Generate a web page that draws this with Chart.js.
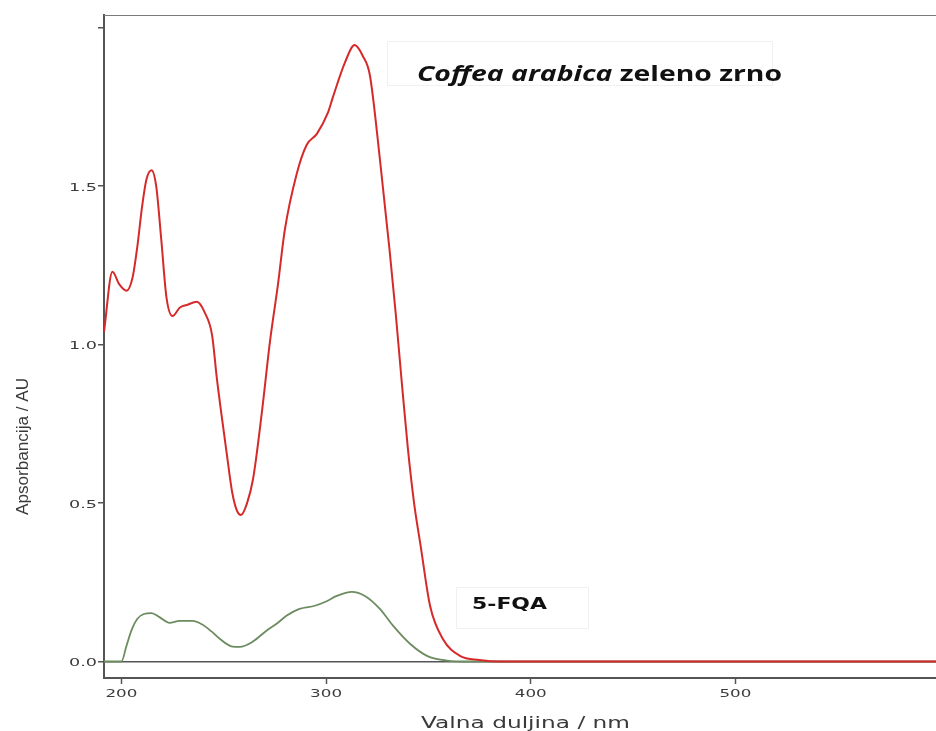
<!DOCTYPE html>
<html>
<head>
<meta charset="utf-8">
<script src="https://cdn.jsdelivr.net/npm/chart.js@4"></script>
<style>
  html, body { margin: 0; padding: 0; background: #fff; }
  #wrap { width: 936px; height: 731px; }
</style>
</head>
<body>
<div id="wrap"><canvas id="spectrum" width="936" height="731"></canvas></div>
<script>
// wavelength (nm) and absorbance (AU)
const coffeaNm = [191.5, 195.6, 199, 202.5, 205.4, 207.8, 210, 212.2, 214.7, 217, 219.5, 222, 225, 228.6, 232, 236.9, 240.8, 244.3, 246.7, 249.2, 251.6, 254.1, 256.5, 258.4, 261.4, 264.3, 268.7, 272.6, 276.5, 279.8, 285.7, 290.5, 295.5, 300.8, 303.3, 309.2, 314, 318, 321.4, 326.3, 331, 334, 337, 340, 343, 346.2, 350.8, 357, 365.4, 375, 385, 598];
const coffeaAbs = [1.04, 1.23, 1.19, 1.17, 1.21, 1.31, 1.43, 1.52, 1.55, 1.50, 1.33, 1.15, 1.09, 1.117, 1.125, 1.135, 1.10, 1.03, 0.89, 0.765, 0.65, 0.535, 0.475, 0.462, 0.50, 0.575, 0.79, 1.01, 1.19, 1.36, 1.54, 1.63, 1.665, 1.73, 1.78, 1.89, 1.945, 1.91, 1.85, 1.585, 1.30, 1.10, 0.88, 0.67, 0.50, 0.365, 0.176, 0.072, 0.018, 0.005, 0, 0];

const fqaNm = [191.5, 200, 202.5, 205, 207.8, 211, 214.7, 218.6, 223.5, 228.4, 234.8, 239.7, 244, 248, 254.3, 257.8, 264, 271, 276, 280.8, 287, 294.5, 300.3, 305.2, 312.6, 319, 326.3, 332.7, 341, 349.3, 359, 370, 598];
const fqaAbs = [0, 0, 0.05, 0.1, 0.135, 0.15, 0.153, 0.14, 0.122, 0.128, 0.128, 0.116, 0.095, 0.072, 0.047, 0.046, 0.062, 0.098, 0.12, 0.145, 0.166, 0.176, 0.19, 0.207, 0.22, 0.207, 0.166, 0.113, 0.056, 0.018, 0.003, 0, 0];

const xTicks = [200, 300, 400, 500];
const yTicks = [0, 0.5, 1.0, 1.5, 2.0];

const toPoints = (xs, ys) => xs.map((x, i) => ({ x, y: ys[i] }));

// draw a run of text pieces squeezed/stretched to a given width
const fitText = (ctx, parts, x, y, width) => {
    let total = 0;
    parts.forEach((p) => {
        ctx.font = p.font;
        total += ctx.measureText(p.text).width;
    });
    const s = width / total;
    ctx.save();
    ctx.translate(x, y);
    ctx.scale(s, 1);
    let cx = 0;
    parts.forEach((p) => {
        ctx.font = p.font;
        ctx.fillText(p.text, cx, 0);
        cx += ctx.measureText(p.text).width;
    });
    ctx.restore();
};

// tick text is drawn wide in the original, so stretch it sideways
const stretchText = (ctx, text, x, y, s, align) => {
    ctx.save();
    ctx.translate(x, y);
    ctx.scale(s, 1);
    ctx.textAlign = align;
    ctx.fillText(text, 0, 0);
    ctx.restore();
};

const decor = {
    id: 'decor',
    afterDraw(chart) {
        const ctx = chart.ctx;
        const a = chart.chartArea;
        const xs = chart.scales.x;
        const ys = chart.scales.y;
        ctx.save();

        // top frame line
        ctx.strokeStyle = '#7a7a7a';
        ctx.lineWidth = 1;
        ctx.beginPath();
        ctx.moveTo(a.left, a.top + 0.5);
        ctx.lineTo(a.right, a.top + 0.5);
        ctx.stroke();

        // tick labels
        ctx.fillStyle = '#3c3c3c';
        ctx.font = '11px "DejaVu Sans"';
        ctx.textBaseline = 'middle';
        xTicks.forEach((v) => {
            stretchText(ctx, String(v), xs.getPixelForValue(v), 694, 1.52, 'center');
        });
        yTicks.forEach((v) => {
            if (v === 2) return;
            stretchText(ctx, v.toFixed(1), 97, ys.getPixelForValue(v) + 2, 1.6, 'right');
        });

        // faint label boxes
        ctx.strokeStyle = '#f0f0f0';
        ctx.strokeRect(387.5, 41.5, 385, 44);
        ctx.strokeRect(456.5, 587.5, 132, 41);

        ctx.fillStyle = '#111';
        ctx.textBaseline = 'alphabetic';
        ctx.textAlign = 'left';
        fitText(ctx, [
            { text: 'Coffea arabica', font: 'italic bold 21px "Open Sans"' },
            { text: ' zeleno zrno', font: 'bold 21px "Open Sans"' },
        ], 417, 81, 365);
        fitText(ctx, [{ text: '5-FQA', font: 'bold 16px "DejaVu Sans"' }], 472, 609, 75);

        // axis titles
        ctx.fillStyle = '#3a3a3a';
        fitText(ctx, [{ text: 'Valna duljina / nm', font: '15px "DejaVu Sans"' }], 421, 728, 209);
        ctx.save();
        ctx.translate(28, 515);
        ctx.rotate(-Math.PI / 2);
        fitText(ctx, [{ text: 'Apsorbancija / AU', font: '16px "Liberation Sans"' }], 0, 0, 137);
        ctx.restore();

        ctx.restore();
    },
};

new Chart(document.getElementById('spectrum').getContext('2d'), {
    type: 'line',
    data: {
        datasets: [
            {
                label: 'Coffea arabica zeleno zrno',
                data: toPoints(coffeaNm, coffeaAbs),
                borderColor: 'rgb(214, 42, 42)',
                borderWidth: 2,
                pointRadius: 0,
                cubicInterpolationMode: 'monotone',
                fill: false,
            },
            {
                label: '5-FQA',
                data: toPoints(fqaNm, fqaAbs),
                borderColor: 'rgb(108, 140, 96)',
                borderWidth: 1.8,
                pointRadius: 0,
                cubicInterpolationMode: 'monotone',
                fill: false,
            },
        ],
    },
    options: {
        responsive: false,
        animation: false,
        layout: {
            padding: { top: 15, left: 0, right: 0, bottom: 0 },
        },
        scales: {
            x: {
                type: 'linear',
                min: 191.5,
                max: 598,
                afterBuildTicks(scale) {
                    scale.ticks = xTicks.map((value) => ({ value }));
                },
                afterFit(scale) {
                    scale.height = 53;
                },
                grid: {
                    drawOnChartArea: false,
                    tickLength: 6,
                    tickColor: '#555',
                    tickWidth: 1.5,
                },
                border: { color: '#555', width: 2 },
                ticks: { display: false },
            },
            y: {
                min: -0.052,
                max: 2.04,
                afterBuildTicks(scale) {
                    scale.ticks = yTicks.map((value) => ({ value }));
                },
                afterFit(scale) {
                    scale.width = 104;
                },
                grid: {
                    color(context) {
                        return context.tick && context.tick.value === 0 ? '#555' : 'rgba(0,0,0,0)';
                    },
                    lineWidth: 1.5,
                    tickLength: 6,
                    tickColor: '#555',
                    tickWidth: 1.5,
                },
                border: { color: '#555', width: 2 },
                ticks: { display: false },
            },
        },
        plugins: {
            legend: { display: false },
            title: { display: false },
            tooltip: { enabled: false },
        },
    },
    plugins: [decor],
});
</script>
</body>
</html>
